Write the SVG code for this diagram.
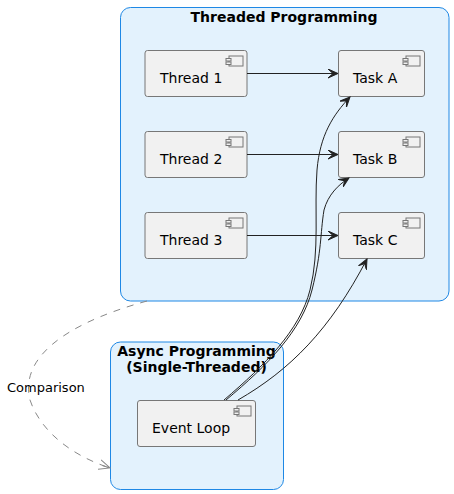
<svg xmlns="http://www.w3.org/2000/svg" width="454" height="494" viewBox="0 0 454 494">
<defs>
<style>
.cluster{fill:#E3F2FD;stroke:#1E88E5;stroke-width:1}
.ctitle{font-family:"DejaVu Sans",sans-serif;font-size:14px;font-weight:bold;fill:#000;text-anchor:middle}
.comp{fill:#F1F1F1;stroke:#777;stroke-width:1}
.icon{fill:#F1F1F1;stroke:#777;stroke-width:1}
.lbl{font-family:"DejaVu Sans",sans-serif;font-size:14px;fill:#000}
.edge{fill:none;stroke:#222;stroke-width:1}
.dash{fill:none;stroke:#888;stroke-width:1;stroke-dasharray:7,7}
</style>
<marker id="ah" markerWidth="12" markerHeight="10" refX="10" refY="5" orient="auto" markerUnits="userSpaceOnUse">
<path d="M10,5 L0,0.5 L5,5 L0,9.5 Z" fill="#222" stroke="#222" stroke-width="1"/>
</marker>
<marker id="open" markerWidth="14" markerHeight="12" refX="11" refY="6" orient="auto" markerUnits="userSpaceOnUse">
<path d="M0,1 L11,6 L0,11 M11,6 L3,6" fill="none" stroke="#888" stroke-width="1"/>
</marker>
</defs>
<g id="cluster-threaded">
<rect class="cluster" x="120.5" y="7.5" width="328.5" height="293.5" rx="10" ry="10"/>
<text class="ctitle" x="284" y="22">Threaded Programming</text>
</g>
<g id="cluster-async">
<rect class="cluster" x="110.5" y="342" width="173" height="147.5" rx="10" ry="10"/>
<text class="ctitle" x="196.5" y="356">Async Programming</text>
<text class="ctitle" x="196.5" y="372">(Single-Threaded)</text>
</g>
<g id="thread1">
<rect class="comp" x="145" y="50.5" width="102" height="46" rx="2.5"/>
<rect class="icon" x="229" y="56" width="14" height="10"/>
<rect class="icon" x="226" y="58.5" width="5" height="2.5"/>
<rect class="icon" x="226" y="62" width="5" height="2.5"/>
<text class="lbl" x="160" y="83">Thread 1</text>
</g>
<g id="thread2">
<rect class="comp" x="145" y="131.5" width="102" height="46" rx="2.5"/>
<rect class="icon" x="229" y="137" width="14" height="10"/>
<rect class="icon" x="226" y="139.5" width="5" height="2.5"/>
<rect class="icon" x="226" y="143" width="5" height="2.5"/>
<text class="lbl" x="160" y="164">Thread 2</text>
</g>
<g id="thread3">
<rect class="comp" x="145" y="212.5" width="102" height="46" rx="2.5"/>
<rect class="icon" x="229" y="218" width="14" height="10"/>
<rect class="icon" x="226" y="220.5" width="5" height="2.5"/>
<rect class="icon" x="226" y="224" width="5" height="2.5"/>
<text class="lbl" x="160" y="245">Thread 3</text>
</g>
<g id="taskA">
<rect class="comp" x="338.5" y="50.5" width="86" height="46" rx="2.5"/>
<rect class="icon" x="406" y="56" width="14" height="10"/>
<rect class="icon" x="403" y="58.5" width="5" height="2.5"/>
<rect class="icon" x="403" y="62" width="5" height="2.5"/>
<text class="lbl" x="353" y="83">Task A</text>
</g>
<g id="taskB">
<rect class="comp" x="338.5" y="131.5" width="86" height="46" rx="2.5"/>
<rect class="icon" x="406" y="137" width="14" height="10"/>
<rect class="icon" x="403" y="139.5" width="5" height="2.5"/>
<rect class="icon" x="403" y="143" width="5" height="2.5"/>
<text class="lbl" x="353" y="164">Task B</text>
</g>
<g id="taskC">
<rect class="comp" x="338.5" y="212.5" width="86" height="46" rx="2.5"/>
<rect class="icon" x="406" y="218" width="14" height="10"/>
<rect class="icon" x="403" y="220.5" width="5" height="2.5"/>
<rect class="icon" x="403" y="224" width="5" height="2.5"/>
<text class="lbl" x="353" y="245">Task C</text>
</g>
<g id="eventloop">
<rect class="comp" x="137.5" y="400.5" width="118" height="46" rx="2.5"/>
<rect class="icon" x="237" y="406" width="14" height="10"/>
<rect class="icon" x="234" y="408.5" width="5" height="2.5"/>
<rect class="icon" x="234" y="412" width="5" height="2.5"/>
<text class="lbl" x="152" y="433">Event Loop</text>
</g>
<g id="connectors">
<path class="edge" d="M247,73.5 L338,73.5" marker-end="url(#ah)"/>
<path class="edge" d="M247,154.5 L338,154.5" marker-end="url(#ah)"/>
<path class="edge" d="M247,235.5 L338,235.5" marker-end="url(#ah)"/>
<path class="edge" d="M224,400 C265,365 300,330 310,290 C320,250 314,210 317,170 C320,135 333,115 350,97" marker-end="url(#ah)"/>
<path class="edge" d="M226,400 C268,365 302,330 312,290 C322,250 320,235 324,210 C328,195 338,185 349,178" marker-end="url(#ah)"/>
<path class="edge" d="M238,400 C290,370 330,330 367,259" marker-end="url(#ah)"/>
<path class="dash" d="M147,301 C60,325 20,360 30,400 C40,430 70,455 110,468" marker-end="url(#open)"/>
<text class="lbl" x="7" y="392" style="font-size:13px">Comparison</text>
</g>
</svg>
